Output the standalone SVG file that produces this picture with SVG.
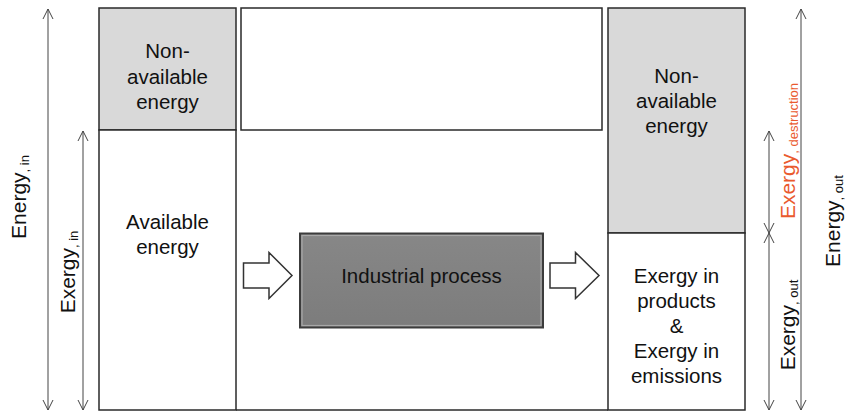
<svg xmlns="http://www.w3.org/2000/svg" width="845" height="417" viewBox="0 0 845 417">
<style>
.t{font-family:"Liberation Sans",Arial,sans-serif;font-size:20.5px;fill:#111;text-anchor:middle}
.lab{font-family:"Liberation Sans",Arial,sans-serif;font-size:21px;fill:#111;text-anchor:middle}
.sub{font-size:13px}
.box{stroke:#2a2a2a;stroke-width:1.5}
.dim{stroke:#444;stroke-width:1;fill:none}
.orange{fill:#ea5a2e}
</style>
<defs>
<marker id="ah" viewBox="0 0 12 12" refX="11" refY="6" markerWidth="12" markerHeight="12" markerUnits="userSpaceOnUse" orient="auto-start-reverse">
<polyline points="1,1 11,6 1,11" fill="none" stroke="#444" stroke-width="1"/>
</marker>
<linearGradient id="pg" x1="0" y1="0" x2="0" y2="1">
<stop offset="0" stop-color="#878787"/>
<stop offset="1" stop-color="#7c7c7c"/>
</linearGradient>
</defs>
<rect width="845" height="417" fill="#fff"/>

<g id="left-column">
<rect x="99" y="8" width="137" height="122" fill="#d9d9d9" class="box"/>
<rect x="99" y="130" width="137" height="280" fill="#fff" class="box"/>
<text class="t" x="167.5" y="58">Non-</text>
<text class="t" x="167.5" y="84">available</text>
<text class="t" x="167.5" y="109">energy</text>
<text class="t" x="167.5" y="229">Available</text>
<text class="t" x="167.5" y="254">energy</text>
</g>

<g id="top-middle">
<rect x="241" y="8" width="361" height="122" fill="#fff" class="box"/>
</g>

<g id="middle-frame">
<line x1="236" y1="410" x2="608" y2="410" class="box"/>
</g>

<g id="right-column">
<rect x="608" y="8" width="137" height="225" fill="#d9d9d9" class="box"/>
<rect x="608" y="233" width="137" height="177" fill="#fff" class="box"/>
<text class="t" x="676.5" y="83">Non-</text>
<text class="t" x="676.5" y="108">available</text>
<text class="t" x="676.5" y="133">energy</text>
<text class="t" x="676.5" y="283">Exergy in</text>
<text class="t" x="676.5" y="308">products</text>
<text class="t" x="676.5" y="333">&amp;</text>
<text class="t" x="676.5" y="358">Exergy in</text>
<text class="t" x="676.5" y="383">emissions</text>
</g>

<g id="industrial-process">
<rect x="300" y="233.5" width="243" height="94" fill="url(#pg)" stroke="#3c3c3c" stroke-width="2"/>
<rect x="302" y="235.5" width="239" height="90" fill="none" stroke="#a8a8a8" stroke-width="1.2"/>
<text class="t" x="421.5" y="283">Industrial process</text>
</g>

<g id="connectors">
<polygon points="243.5,263 269,263 269,252.5 292,275.5 269,298.5 269,288 243.5,288" fill="#fff" stroke="#333" stroke-width="1.5"/>
<polygon points="550,263 575.5,263 575.5,252.5 599,275.5 575.5,298.5 575.5,288 550,288" fill="#fff" stroke="#333" stroke-width="1.5"/>
<line x1="48" y1="9" x2="48" y2="410" class="dim" marker-start="url(#ah)" marker-end="url(#ah)"/>
<line x1="83" y1="131" x2="83" y2="410" class="dim" marker-start="url(#ah)" marker-end="url(#ah)"/>
<line x1="769" y1="131" x2="769" y2="233" class="dim" marker-start="url(#ah)" marker-end="url(#ah)"/>
<line x1="769" y1="233" x2="769" y2="410" class="dim" marker-start="url(#ah)" marker-end="url(#ah)"/>
<line x1="801" y1="9" x2="801" y2="410" class="dim" marker-start="url(#ah)" marker-end="url(#ah)"/>
</g>

<g id="labels">
<text class="lab" transform="translate(26,197) rotate(-90)">Energy<tspan class="sub" dy="3">, in</tspan></text>
<text class="lab" transform="translate(75,272) rotate(-90)">Exergy<tspan class="sub" dy="3">, in</tspan></text>
<text class="lab orange" transform="translate(795,151) rotate(-90)">Exergy<tspan class="sub" dy="3">, destruction</tspan></text>
<text class="lab" transform="translate(795,325) rotate(-90)">Exergy<tspan class="sub" dy="3">, out</tspan></text>
<text class="lab" transform="translate(840,221) rotate(-90)">Energy<tspan class="sub" dy="3">, out</tspan></text>
</g>
</svg>
